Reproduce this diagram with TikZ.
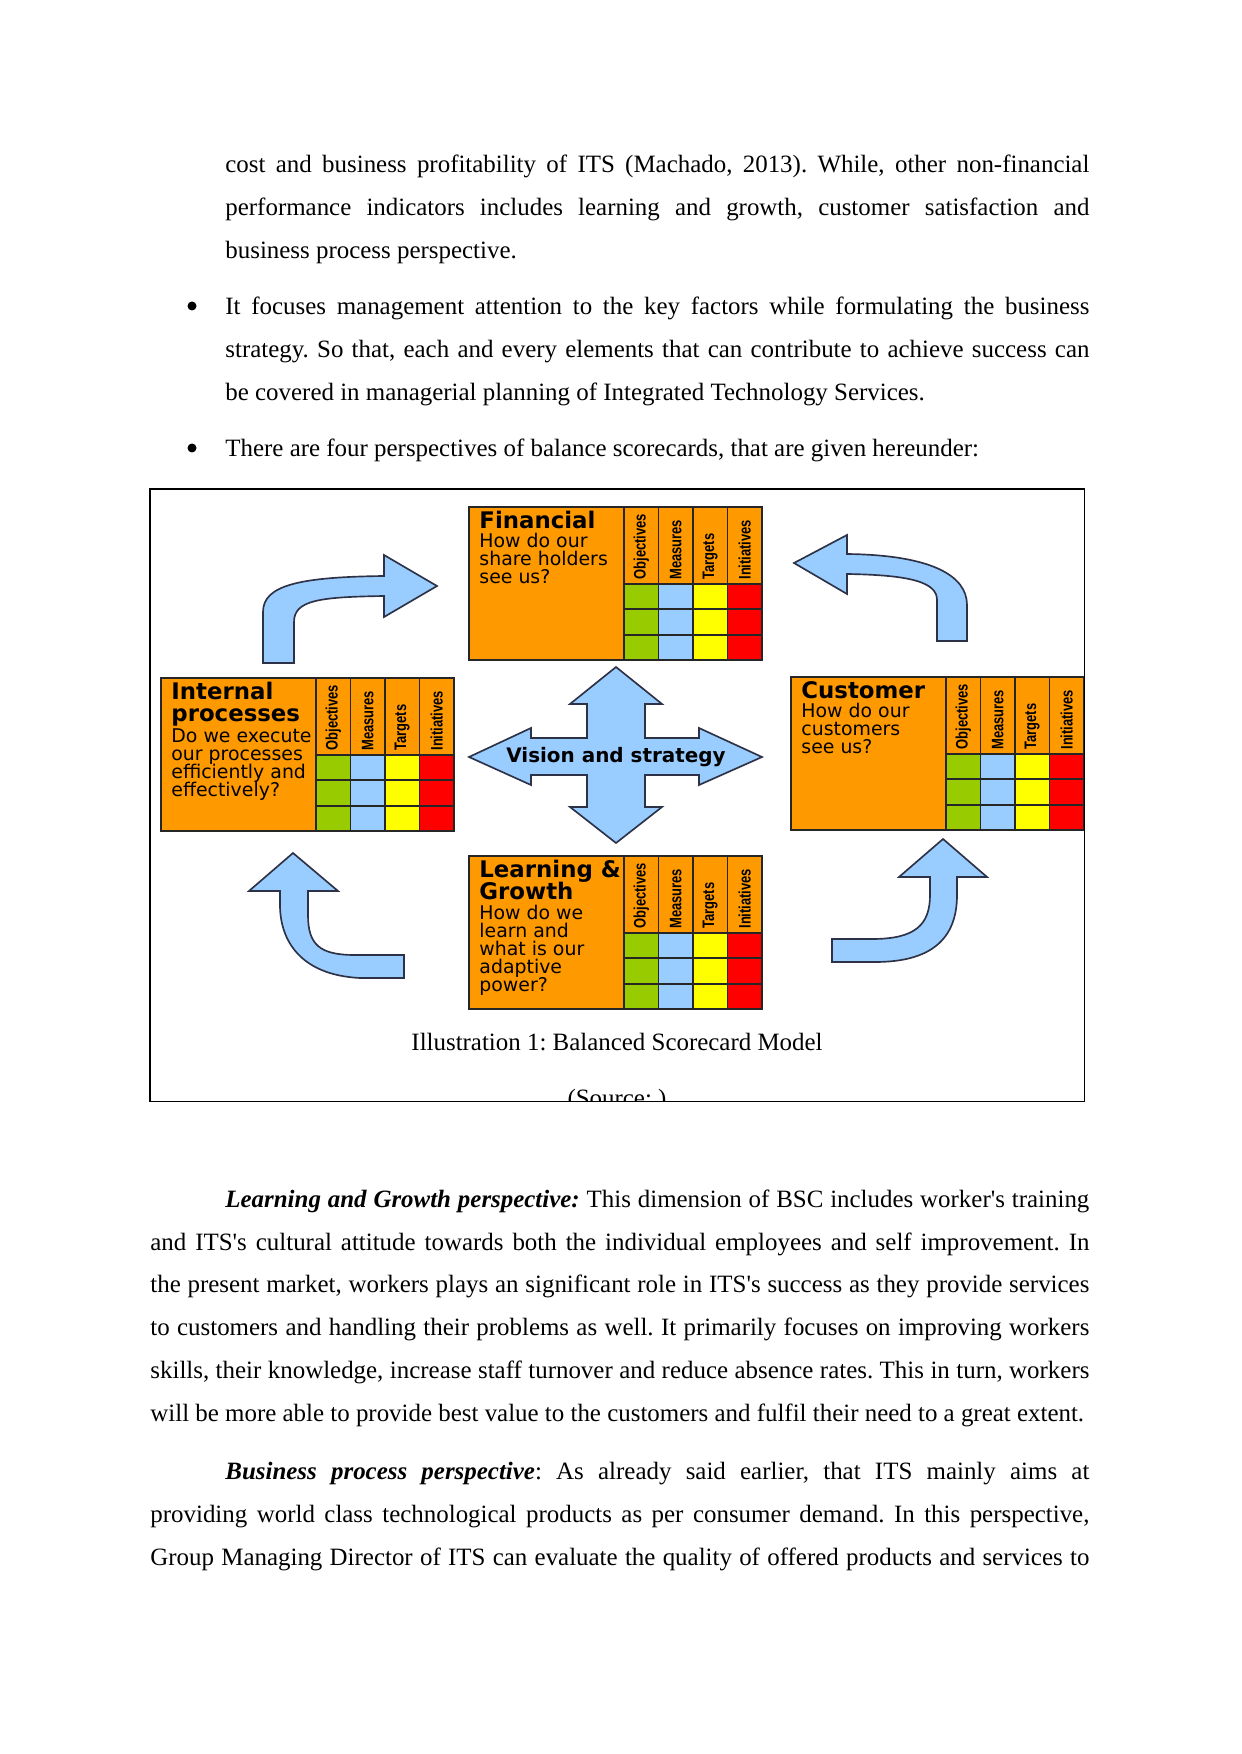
\documentclass[tikz,border=0pt]{standalone}
\usepackage{fontspec}
\setmainfont{Liberation Serif}
\newfontfamily\bscfont{DejaVu Sans}
\newfontfamily\colfont{Liberation Sans}[FakeStretch=0.78]
\usetikzlibrary{calc}
\frenchspacing
\newlength\pxu
\setlength\pxu{0.169218mm}
\definecolor{bscorange}{RGB}{255,153,0}
\definecolor{bscgreen}{RGB}{153,204,0}
\definecolor{bscblue}{RGB}{153,204,255}
\definecolor{bscyellow}{RGB}{255,255,0}
\definecolor{bscred}{RGB}{255,0,0}
\definecolor{arrowline}{RGB}{45,50,70}
\tikzset{%
    cell/.style={%
        draw=black!85,
        line width=0.9pt,
    },
    boxtitle/.style={%
        anchor=base west,
        inner sep=0pt,
        font=\bscfont\bfseries\fontsize{11}{11}\selectfont,
    },
    boxquest/.style={%
        anchor=base west,
        inner sep=0pt,
        font=\bscfont\fontsize{9.1}{9.1}\selectfont,
    },
    collabel/.style={%
        rotate=90,
        anchor=west,
        inner sep=0pt,
        font=\colfont\bfseries\fontsize{8}{8}\selectfont,
    },
    bigarrow/.style={%
        fill=bscblue,
        draw=arrowline,
        line width=0.8pt,
        line join=miter,
    },
    para/.style={%
        anchor=base west,
        inner sep=0pt,
        align=justify,
        font=\fontsize{12}{20.7}\selectfont,
    },
    caption/.style={%
        anchor=base,
        inner sep=0pt,
        font=\fontsize{12}{20.7}\selectfont,
    },
    bulletdot/.style={%
        circle,
        fill=black,
        inner sep=0pt,
        minimum size=9\pxu,
    },
}
% one perspective: text part, four columns, three rows
\newcommand\bscbox[5]{%
  \begin{scope}[shift={(#2)}]
    \draw[cell, fill=bscorange] (0,0) rectangle (155,153);
    \foreach \ci/\col/\lab in {0/bscgreen/Objectives, 1/bscblue/Measures, 2/bscyellow/Targets, 3/bscred/Initiatives}{
      \draw[cell, fill=bscorange] ({155+34.5*\ci},0) rectangle ++(34.5,77);
      \foreach \r in {0,1,2}
        \draw[cell, fill=\col] ({155+34.5*\ci},{77+25.33*\r}) rectangle ++(34.5,25.33);
      \node[collabel] (#1-\lab) at ({155+34.5*(\ci+0.5)},73) {\lab};
    }
    \foreach \t [count=\i from 0] in {#3}
      \node[boxtitle] (#1-t\i) at (10,{21.5+22*\i}) {\t};
    \foreach \q [count=\i from 0] in {#4}
      \node[boxquest] (#1-q\i) at (10,{#5+18*\i}) {\q};
  \end{scope}}

\begin{document}
\begin{tikzpicture}[x=\pxu, y=-\pxu]
	\useasboundingbox (0,0) rectangle (1241,1754);

	% text above the figure
	\node[para, text width=864\pxu] (p-cost) at (225,173) {cost and business profitability of ITS (Machado, 2013). While, other non-financial\linebreak performance indicators includes learning and growth, customer satisfaction and\linebreak business process perspective.};
	\node[bulletdot] (b-focus) at (192,306) {};
	\node[para, text width=864\pxu] (p-focus) at (225,315) {It focuses management attention to the key factors while formulating the business\linebreak strategy. So that, each and every elements that can contribute to achieve success can\linebreak be covered in managerial planning of Integrated Technology Services.};
	\node[bulletdot] (b-four) at (192,448) {};
	\node[para, text width=864\pxu] (p-four) at (225,457) {There are four perspectives of balance scorecards, that are given hereunder:};

	% the four perspectives
	\bscbox{fin}{469,507}{Financial}{How do our, share holders, see us?}{40}
	\bscbox{int}{161,678}{Internal, processes}{Do we execute, our processes, efficiently and, effectively?}{64}
	\bscbox{cus}{791,677}{Customer}{How do our, customers, see us?}{40}
	\bscbox{lrn}{469,856}{Learning \&, Growth}{How do we, learn and, what is our, adaptive, power?}{63}

	% vision and strategy in the middle
	\draw[bigarrow] (616,667) -- (662,704) -- (645,704) -- (645,738) -- (699,738) -- (699,728)
		-- (762,757) -- (699,785) -- (699,775) -- (645,775) -- (645,807) -- (662,807)
		-- (616,843) -- (570,807) -- (587,807) -- (587,775) -- (531,775) -- (531,785)
		-- (469,757) -- (531,728) -- (531,738) -- (587,738) -- (587,704) -- (570,704) -- cycle;
	\node[font=\bscfont\bfseries\fontsize{9.6}{9.6}\selectfont, anchor=base, inner sep=0pt] (vision) at (616,762) {Vision and strategy};

	% curved arrows between the perspectives
	\draw[bigarrow] (263,663) -- (263,612) .. controls (263,585) and (300,577) .. (384,576)
		-- (384,555) -- (437,586) -- (384,617) -- (384,596)
		.. controls (320,597) and (294,600) .. (294,622) -- (294,663) -- cycle;
	\draw[bigarrow] (794,563) -- (847,535) -- (847,554) .. controls (930,555) and (967,575) .. (967,605)
		-- (967,641) -- (937,641) -- (937,600) .. controls (937,582) and (910,575) .. (847,574)
		-- (847,594) -- cycle;
	\draw[bigarrow] (293,853) -- (338,891) -- (308,891) -- (308,915) .. controls (308,945) and (320,955) .. (355,955)
		-- (404,955) -- (404,978) -- (360,978) .. controls (300,975) and (280,940) .. (280,905)
		-- (280,891) -- (249,891) -- cycle;
	\draw[bigarrow] (943,839) -- (987,877) -- (957,877) -- (957,895) .. controls (957,940) and (930,962) .. (875,962)
		-- (832,962) -- (832,939) -- (872,939) .. controls (915,939) and (930,925) .. (930,895)
		-- (930,877) -- (899,877) -- cycle;

	% caption, the source line is cut by the frame
	\node[caption] (cap) at (617,1050) {Illustration 1: Balanced Scorecard Model};
	\begin{scope}
		\clip (150,489) rectangle (1084.5,1101.5);
		\node[caption] (src) at (617,1106) {(Source: )};
	\end{scope}
	\draw[line width=0.6pt] (150,489) rectangle (1084.5,1101.5);

	% text below the figure
	\node[para, text width=939\pxu] (p-learn) at (150,1207) {\hspace*{75\pxu}\textbf{\textit{Learning and Growth perspective:}} This dimension of BSC includes worker\textquotesingle s training\linebreak and ITS\textquotesingle s cultural attitude towards both the individual employees and self improvement. In\linebreak the present market, workers plays an significant role in ITS\textquotesingle s success as they provide services\linebreak to customers and handling their problems as well. It primarily focuses on improving workers\linebreak skills, their knowledge, increase staff turnover and reduce absence rates. This in turn, workers\linebreak will be more able to provide best value to the customers and fulfil their need to a great extent.};
	\node[para, text width=939\pxu] (p-business) at (150,1479) {\parfillskip=0pt\hspace*{75\pxu}\textbf{\textit{Business process perspective}}: As already said earlier, that ITS mainly aims at\linebreak providing world class technological products as per consumer demand. In this perspective,\linebreak Group Managing Director of ITS can evaluate the quality of offered products and services to\par};
\end{tikzpicture}
\end{document}
